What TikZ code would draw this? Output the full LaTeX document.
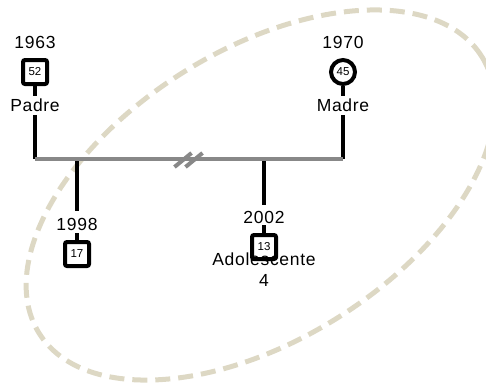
\documentclass[tikz,border=0pt]{standalone}
\usepackage{fontspec}
\setmainfont{Liberation Sans}
\newfontfamily\tagfont{Liberation Sans}[LetterSpace=4]
\usetikzlibrary{positioning}
\definecolor{bargray}{RGB}{136,136,136}
\definecolor{ringbeige}{RGB}{221,216,196}

\begin{document}
\begin{tikzpicture}[
  x=1pt,y=1pt,
  male/.style={draw,line width=4pt,rounded corners=2pt,minimum size=24pt,inner sep=0pt,
    font=\fontsize{11.5}{11.5}\selectfont},
  female/.style={circle,draw,line width=4pt,minimum size=24pt,inner sep=0pt,
    font=\fontsize{11.5}{11.5}\selectfont},
  tag/.style={inner sep=0pt,text height=12pt,text depth=0pt,
    font=\tagfont\fontsize{17.5}{21}\selectfont},
  link/.style={line width=4pt},
  bar/.style={line width=4pt,color=bargray},
  ring/.style={ringbeige,line width=5pt,dash pattern=on 15pt off 8pt}
]
  \useasboundingbox (0,0) rectangle (486,-383);

  % household ring
  \coordinate (ringc) at (260.5,-195);
  \draw[ring,rotate around={32:(ringc)}] (ringc) ellipse [x radius=261,y radius=145];

  % parents
  \node[male] (padre) at (35,-72) {52};
  \node[female] (madre) at (343,-72) {45};
  \node[tag,above=9pt of padre] (padre-year) {1963};
  \node[tag,below=13pt of padre] (padre-name) {Padre};
  \node[tag,above=9pt of madre] (madre-year) {1970};
  \node[tag,below=13pt of madre] (madre-name) {Madre};

  % children
  \node[male] (hijo) at (77,-254) {17};
  \node[male] (adol) at (264,-247) {13};
  \node[tag,above=9pt of hijo] (hijo-year) {1998};
  \node[tag,above=9pt of adol] (adol-year) {2002};
  \node[tag,align=center,below=13.5pt of adol] (adol-name) {Adolescente\\4};

  % marriage line
  \coordinate (pj) at (35,-159);
  \coordinate (mj) at (343,-159);
  \coordinate (hj) at (77,-159);
  \coordinate (aj) at (264,-159);
  \coordinate (brk) at (188.5,-160);

  \draw[link,shorten >=3pt] (padre) -- (padre-name);
  \draw[link,shorten >=3pt] (madre) -- (madre-name);
  \draw[link,shorten <=4pt] (padre-name) -- (pj);
  \draw[link,shorten <=4pt] (madre-name) -- (mj);
  \draw[link,shorten >=8pt] (hj) -- (hijo-year);
  \draw[link,shorten <=2pt] (hijo-year) -- (hijo);
  \draw[link,shorten >=7pt] (aj) -- (adol-year);
  \draw[link,shorten <=1pt] (adol-year) -- (adol);

  \draw[bar] (pj) -- (mj);
  % separation mark
  \foreach \dx in {-5.5,5.5}
    \draw[bar] ([xshift=\dx pt]brk) ++(-8.5,-7) -- ++(17,14);
\end{tikzpicture}
\end{document}
